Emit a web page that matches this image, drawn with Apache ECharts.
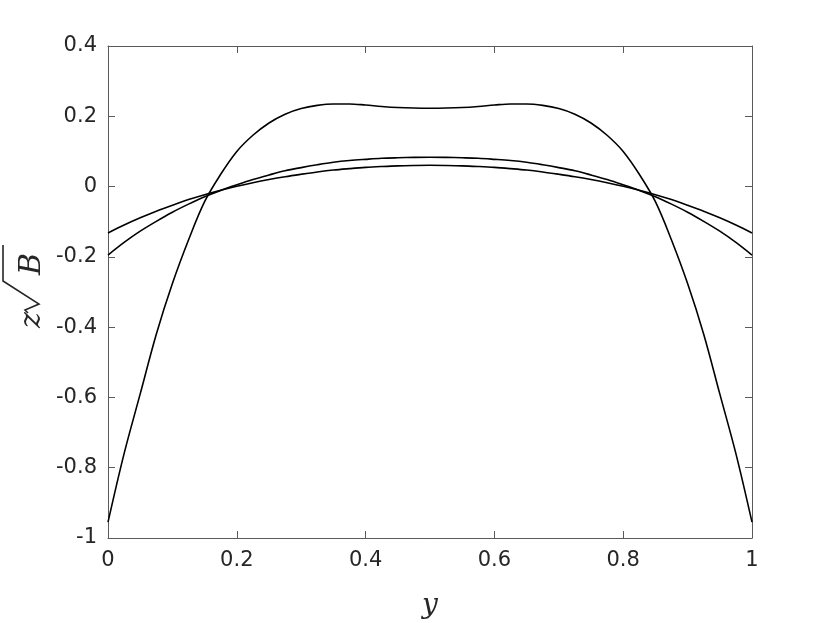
<!DOCTYPE html>
<html>
<head>
<meta charset="utf-8">
<script src="https://cdn.jsdelivr.net/npm/echarts@6/dist/echarts.min.js"></script>
<style>html,body{margin:0;padding:0;background:#fff}#c{width:830px;height:623px}</style>
</head>
<body>
<div id="c"></div>
<script>
var yPos = [0,0.025,0.05,0.075,0.1,0.125,0.15,0.175,0.2,0.225,0.25,0.275,0.3,0.325,0.35,0.375,0.4,0.425,0.45,0.475,0.5,
            0.525,0.55,0.575,0.6,0.625,0.65,0.675,0.7,0.725,0.75,0.775,0.8,0.825,0.85,0.875,0.9,0.925,0.95,0.975,1];
var curveA = [-0.955,-0.76,-0.59,-0.42,-0.276,-0.152,-0.043,0.035,0.100,0.146,0.181,0.206,0.222,0.231,0.235,0.235,0.232,0.228,0.225,0.2235,0.223,
              0.2235,0.225,0.228,0.232,0.235,0.235,0.231,0.222,0.206,0.181,0.146,0.100,0.035,-0.043,-0.152,-0.276,-0.42,-0.59,-0.76,-0.955];
var curveB = [-0.195,-0.159,-0.127,-0.099,-0.073,-0.050,-0.029,-0.011,0.005,0.020,0.033,0.045,0.054,0.062,0.069,0.074,0.0775,0.0805,0.082,0.083,0.0835,
              0.083,0.082,0.0805,0.0775,0.074,0.069,0.062,0.054,0.045,0.033,0.020,0.005,-0.011,-0.029,-0.050,-0.073,-0.099,-0.127,-0.159,-0.195];
var curveC = [-0.132,-0.1095,-0.089,-0.070,-0.053,-0.037,-0.023,-0.0105,0.001,0.011,0.020,0.028,0.035,0.0415,0.047,0.051,0.0545,0.057,0.059,0.060,0.0605,
              0.060,0.059,0.057,0.0545,0.051,0.047,0.0415,0.035,0.028,0.020,0.011,0.001,-0.0105,-0.023,-0.037,-0.053,-0.070,-0.089,-0.1095,-0.132];
var xTicks = [0,0.2,0.4,0.6,0.8,1];
var yTicks = [-1,-0.8,-0.6,-0.4,-0.2,0,0.2,0.4];

function pairs(v){ return yPos.map(function(t,i){return [t,v[i]];}); }

var axisCol = '#262626';
var lineCol = '#5a5a5a';
var labelFont = 'DejaVu Sans, sans-serif';
var serif = 'DejaVu Serif, serif';
var chart = echarts.init(document.getElementById('c'), null, {renderer:'canvas'});
var common = {
  axisLine:{show:true,onZero:false,lineStyle:{color:lineCol,width:1}},
  axisTick:{show:true,inside:true,length:7,lineStyle:{color:lineCol,width:1}},
  splitLine:{show:false}
};
function mk(extra){ return Object.assign({}, common, extra); }
function fmt(v){ return String(+v.toFixed(2)); }
chart.setOption({
  animation:false,
  grid:{left:108,top:46,right:78,bottom:85,containLabel:false,outerBoundsMode:'none'},
  xAxis:[
    mk({type:'value',position:'bottom',min:xTicks[0],max:xTicks[xTicks.length-1],interval:0.2,
       axisLabel:{show:true,color:axisCol,fontSize:21,fontFamily:labelFont,margin:12,formatter:fmt},
       name:'y',nameLocation:'middle',nameGap:54,
       nameTextStyle:{fontFamily:serif,fontStyle:'italic',fontSize:28,color:axisCol}}),
    mk({type:'value',position:'top',min:0,max:1,interval:0.2,axisLabel:{show:false}})
  ],
  yAxis:[
    mk({type:'value',position:'left',min:yTicks[0],max:yTicks[yTicks.length-1],interval:0.2,
       axisLabel:{show:true,color:axisCol,fontSize:21,fontFamily:labelFont,margin:11,formatter:fmt}}),
    mk({type:'value',position:'right',min:-1,max:0.4,interval:0.2,axisLabel:{show:false}})
  ],
  graphic:[{
    type:'group', x:24, y:286, rotation:Math.PI/2,
    children:[
      {type:'text', x:-42, y:8, style:{text:'z', font:'italic 30px '+serif, fill:axisCol, align:'left', verticalAlign:'middle'}},
      {type:'polyline', shape:{points:[[-27,4],[-24,1],[-18,15],[5,-21],[41,-21]]},
       style:{stroke:axisCol, lineWidth:1.6, fill:null, lineJoin:'miter'}},
      {type:'text', x:11, y:8, style:{text:'B', font:'italic 30px '+serif, fill:axisCol, align:'left', verticalAlign:'middle'}}
    ]
  }],
  series:[
    {type:'line',data:pairs(curveA),smooth:0.35,symbol:'none',lineStyle:{color:'#000',width:1.6}},
    {type:'line',data:pairs(curveB),smooth:0.35,symbol:'none',lineStyle:{color:'#000',width:1.6}},
    {type:'line',data:pairs(curveC),smooth:0.35,symbol:'none',lineStyle:{color:'#000',width:1.6}}
  ]
});
</script>
</body>
</html>
